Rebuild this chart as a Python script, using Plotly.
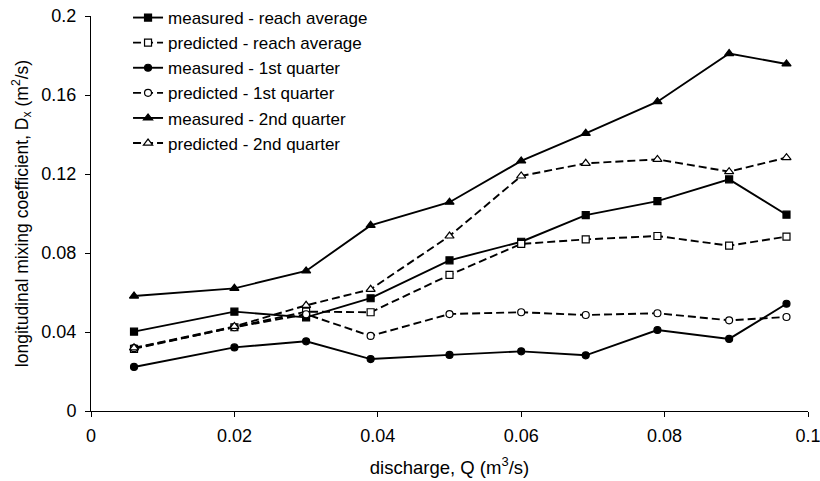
import plotly.graph_objects as go

# Discharge Q (m^3/s) for each test run
discharge = [0.006, 0.020, 0.030, 0.039, 0.050, 0.060, 0.069, 0.079, 0.089, 0.097]

# Longitudinal mixing coefficient Dx (m^2/s)
measured_reach = [0.0402, 0.0503, 0.0474, 0.0571, 0.0763, 0.0857, 0.0992, 0.1063, 0.1173, 0.0994]
predicted_reach = [0.0315, 0.0424, 0.0503, 0.0500, 0.0689, 0.0846, 0.0869, 0.0886, 0.0837, 0.0883]
measured_q1 = [0.0223, 0.0322, 0.0353, 0.0263, 0.0284, 0.0302, 0.0282, 0.0410, 0.0365, 0.0543]
predicted_q1 = [0.0318, 0.0424, 0.0490, 0.0380, 0.0491, 0.0500, 0.0486, 0.0495, 0.0459, 0.0476]
measured_q2 = [0.0582, 0.0621, 0.0709, 0.0940, 0.1057, 0.1266, 0.1406, 0.1566, 0.1810, 0.1757]
predicted_q2 = [0.0320, 0.0428, 0.0535, 0.0616, 0.0886, 0.1190, 0.1254, 0.1274, 0.1212, 0.1283]

x_ticks = [0, 0.02, 0.04, 0.06, 0.08, 0.1]
x_tick_text = ["0", "0.02", "0.04", "0.06", "0.08", "0.1"]
y_ticks = [0, 0.04, 0.08, 0.12, 0.16, 0.2]
y_tick_text = ["0", "0.04", "0.08", "0.12", "0.16", "0.2"]

FONT = "Liberation Sans, Arial, sans-serif"
DASH = "8px,4px"

series = [
    ("measured - reach average", measured_reach, "solid", "square", "black", 7),
    ("predicted - reach average", predicted_reach, DASH, "square", "white", 7),
    ("measured - 1st quarter", measured_q1, "solid", "circle", "black", 7),
    ("predicted - 1st quarter", predicted_q1, DASH, "circle", "white", 7),
    ("measured - 2nd quarter", measured_q2, "solid", "triangle-up", "black", 8),
    ("predicted - 2nd quarter", predicted_q2, DASH, "triangle-up", "white", 8),
]

fig = go.Figure()
for i, (name, values, dash, symbol, fill, size) in enumerate(series):
    fig.add_trace(go.Scatter(
        x=discharge, y=values, name=name, mode="lines+markers",
        legendgroup=f"g{i}",
        line=dict(color="black", width=1.9, dash=dash),
        marker=dict(symbol=symbol, size=size, color=fill,
                    line=dict(color="black", width=1.2)),
    ))

axis_common = dict(
    showline=True, linecolor="black", linewidth=1,
    ticks="outside", ticklen=5, tickcolor="black", tickwidth=1,
    showgrid=False, zeroline=False, automargin=False,
    ticklabeloverflow="allow",
    tickfont=dict(family=FONT, size=18, color="black"),
)

# Right margin is zero; the x axis domain stops short of the page edge instead.
fig.update_layout(
    width=820, height=481,
    margin=dict(l=91, r=0, t=16, b=70),
    paper_bgcolor="white", plot_bgcolor="white",
    font=dict(family=FONT, size=18, color="black"),
    xaxis=dict(range=[0, 0.1], domain=[0, 717 / 729], tickvals=x_ticks, ticktext=x_tick_text,
               title=dict(text="discharge, Q (m<sup>3</sup>/s)", standoff=16,
                          font=dict(family=FONT, size=18.5)),
               ticklabelstandoff=3, **axis_common),
    yaxis=dict(range=[0, 0.2], tickvals=y_ticks, ticktext=y_tick_text,
               title=dict(text="longitudinal mixing coefficient, D<sub>x</sub> (m<sup>2</sup>/s)",
                          standoff=8, font=dict(family=FONT, size=17.5)),
               ticklabelstandoff=5, **axis_common),
    legend=dict(x=0.0508, y=1.0405, xanchor="left", yanchor="top",
                bgcolor="rgba(0,0,0,0)", borderwidth=0,
                font=dict(family=FONT, size=17, color="black"),
                tracegroupgap=0, itemwidth=30),
    showlegend=True,
)

fig.write_html("out.html")
